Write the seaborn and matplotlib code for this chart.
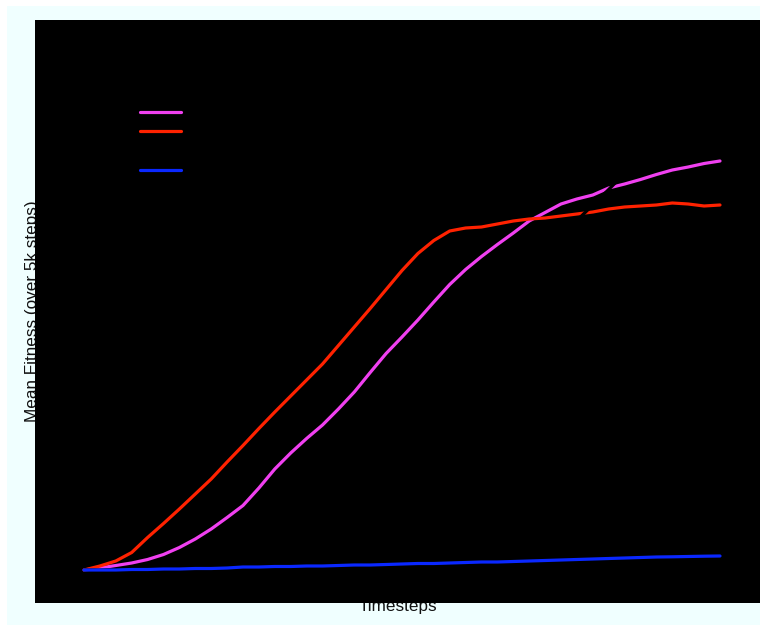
import matplotlib
matplotlib.use("Agg")
import matplotlib.pyplot as plt
from matplotlib.patches import Rectangle
import numpy as np
import pandas as pd
import seaborn as sns

# ---- data ----
timesteps = list(range(0, 1_000_001, 25_000))  # 41 points

methods = ["Mutation + Crossover", "Mutation only", "Crossover only", "Random search"]
colors = ["#f040f0", "#ff2200", "#000000", "#0a28ff"]

fit_mut_cross = [0, 0.4, 0.9, 1.4, 2.1, 3.1, 4.5, 6.2, 8.2, 10.5, 12.9, 16.4, 20.2, 23.4,
                 26.3, 29.0, 32.2, 35.6, 39.5, 43.3, 46.6, 50.0, 53.6, 57.1, 60.1, 62.7,
                 65.1, 67.4, 69.8, 71.5, 73.2, 74.2, 75.0, 76.4, 77.2, 78.1, 79.1, 80.0,
                 80.6, 81.3, 81.8]
fit_mut_only = [0, 0.8, 1.8, 3.5, 6.5, 9.3, 12.2, 15.2, 18.2, 21.6, 24.9, 28.3, 31.6, 34.8,
                38.0, 41.2, 44.9, 48.6, 52.3, 56.1, 59.9, 63.3, 65.9, 67.8, 68.4, 68.6,
                69.2, 69.8, 70.2, 70.4, 70.8, 71.2, 71.6, 72.2, 72.6, 72.8, 73.0, 73.4,
                73.2, 72.8, 73.0]
fit_cross_only = [0, 0, 0.1, 0.2, 0.2, 0.3, 0.4, 0.4, 0.5, 0.5, 0.6, 3.9, 7.2, 10.6, 13.8,
                  17.1, 20.5, 23.7, 27.0, 30.4, 33.6, 36.9, 40.2, 43.5, 46.8, 50.1, 53.4,
                  56.7, 60.0, 63.3, 66.6, 69.9, 73.0, 76.1, 79.3, 82.4, 85.5, 88.6, 91.7,
                  94.9, 98.0]
fit_random = [0, 0, 0, 0.1, 0.1, 0.2, 0.2, 0.3, 0.3, 0.4, 0.6, 0.6, 0.7, 0.7, 0.8, 0.8,
              0.9, 1.0, 1.0, 1.1, 1.2, 1.3, 1.3, 1.4, 1.5, 1.6, 1.6, 1.7, 1.8, 1.9, 2.0,
              2.1, 2.2, 2.3, 2.4, 2.5, 2.6, 2.64, 2.7, 2.76, 2.8]

series = [fit_mut_cross, fit_mut_only, fit_cross_only, fit_random]
df = pd.concat(
    [pd.DataFrame({"Timesteps": timesteps, "Fitness": s, "Method": m})
     for m, s in zip(methods, series)],
    ignore_index=True,
)

# ---- style ----
sns.set_theme(style="dark")
plt.rcParams["font.family"] = ["Liberation Sans", "DejaVu Sans"]

W, H = 760, 625
fig = plt.figure(figsize=(W / 100, H / 100), dpi=100, facecolor="white")
fig.add_artist(Rectangle((7 / W, 0), 1 - 7 / W, (H - 6) / H, transform=fig.transFigure,
                         facecolor="#f0ffff", edgecolor="none", zorder=-10))

ax = fig.add_axes([35 / W, (H - 603) / H, (760 - 35) / W, (603 - 20) / H])
ax.set_facecolor("black")

sns.lineplot(data=df, x="Timesteps", y="Fitness", hue="Method", hue_order=methods,
             palette=dict(zip(methods, colors)), linewidth=2.3, ax=ax, legend=False)

ax.set_xlim(-77_044, 1_062_893)
ax.set_ylim(-6.6, 110)
ax.set_xticks([])
ax.set_yticks([])
ax.set_xlabel("")
ax.set_ylabel("")
for sp in ax.spines.values():
    sp.set_visible(False)

handles = [plt.Line2D([], [], color=c, lw=2.3) for c in colors]
ax.legend(handles, methods, loc="upper left", bbox_to_anchor=(0.131, 0.867),
          frameon=False, fontsize=8.2, handlelength=3.55, labelspacing=0.83,
          labelcolor="black")

# axis titles drawn beneath the axes
fig.text(397.5 / W, 1 - 606 / H, "Timesteps", ha="center", va="center",
         fontsize=12.3, color="#111111", zorder=-1)
fig.text(33 / W, 1 - 311.5 / H, "Mean Fitness (over 5k steps)", ha="center", va="center",
         rotation=90, fontsize=12.3, color="#111111", zorder=-1)

fig.savefig("out.png", dpi=100, facecolor="white")
